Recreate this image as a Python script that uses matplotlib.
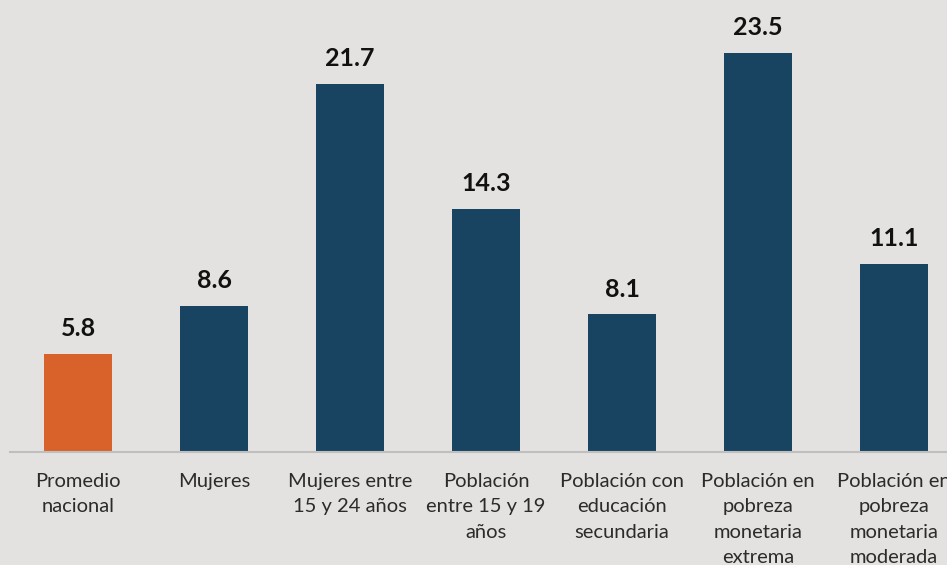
import matplotlib

matplotlib.use("Agg")
import matplotlib.pyplot as plt

categories = [
    "Promedio\nnacional",
    "Mujeres",
    "Mujeres entre\n15 y 24 años",
    "Población\nentre 15 y 19\naños",
    "Población con\neducación\nsecundaria",
    "Población en\npobreza\nmonetaria\nextrema",
    "Población en\npobreza\nmonetaria\nmoderada",
]
values = [5.8, 8.6, 21.7, 14.3, 8.1, 23.5, 11.1]
value_labels = ["5.8", "8.6", "21.7", "14.3", "8.1", "23.5", "11.1"]

bg = "#e3e2e0"
blue = "#184461"
orange = "#d9622b"
colors = [orange] + [blue] * (len(values) - 1)

plt.rcParams["font.family"] = ["Lato", "DejaVu Sans"]

fig = plt.figure(figsize=(9.47, 5.65), dpi=100, facecolor=bg)
# axes runs past the right edge, like the cropped original
ax = fig.add_axes([10 / 947, 0.2, 952 / 947, 0.8])
ax.set_facecolor(bg)

x = list(range(len(values)))
ax.bar(x, values, width=0.5, color=colors)

for xi, v, lab in zip(x, values, value_labels):
    ax.annotate(lab, (xi, v), xytext=(0, 10), textcoords="offset points",
                ha="center", va="bottom", fontsize=18, fontweight="bold",
                color="#111111")

ax.set_xlim(-0.5, 6.5)
ax.set_ylim(0, 26.62)
ax.set_xticks(x)
ax.set_xticklabels(categories, fontsize=14.5, color="#2b2b2b", linespacing=1.6)
ax.tick_params(axis="x", length=0, pad=15)
ax.set_yticks([])

for side in ["top", "right", "left"]:
    ax.spines[side].set_visible(False)
ax.spines["bottom"].set_color("#bfbfbf")
ax.spines["bottom"].set_linewidth(1.5)

fig.savefig("out.png", dpi=100, facecolor=bg)
